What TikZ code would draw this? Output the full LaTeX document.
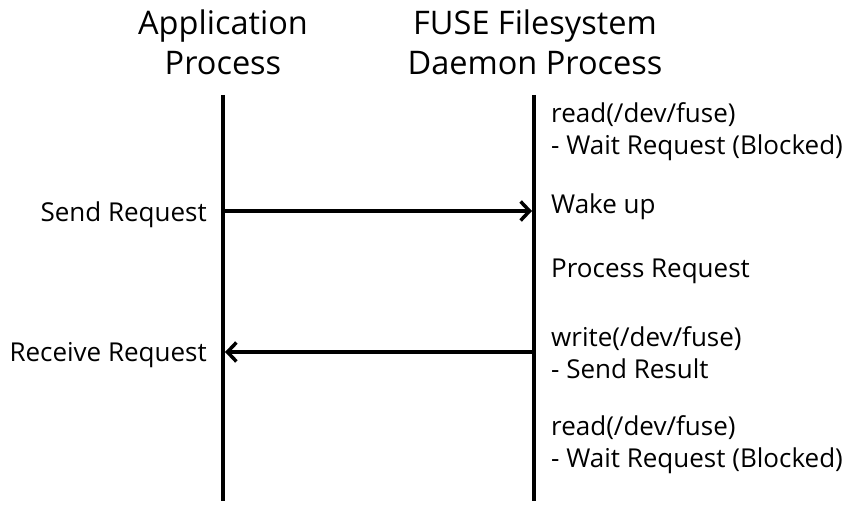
\documentclass[tikz,border=0pt]{standalone}
\usepackage{fontspec}
\setmainfont{Open Sans}
\usetikzlibrary{arrows.meta}
\begin{document}
\begin{tikzpicture}[x=1pt,y=-1pt,inner sep=0pt,
  title/.style={font=\fontsize{32.5}{40}\selectfont,align=center,anchor=base},
  txt/.style={font=\fontsize{26}{32}\selectfont,align=left,anchor=base west},
  lbl/.style={font=\fontsize{26}{32}\selectfont,anchor=base east},
  life/.style={line width=4pt},
  msg/.style={line width=3.5pt,-{Straight Barb[length=9pt,width=19pt]}}]
\useasboundingbox (0,0) rectangle (861,513);
%heads (base = last line)
\node[title] at (223,75) (app) {Application\\Process};
\node[title] at (535,75) (fuse) {FUSE Filesystem\\Daemon Process};
%lifelines
\coordinate (a0) at (223,95); \coordinate (a1) at (223,501);
\coordinate (f0) at (534,95); \coordinate (f1) at (534,501);
\draw[life] (a0) -- (a1);
\draw[life] (f0) -- (f1);
%messages
\coordinate (s0) at (223,211); \coordinate (s1) at (532,211);
\coordinate (r0) at (534,352); \coordinate (r1) at (225,352);
\draw[msg] (s0) -- (s1);
\draw[msg] (r0) -- (r1);
\node[lbl] at (207,221) (send) {Send Request};
\node[lbl] at (207,361) (recv) {Receive Request};
%daemon side
\node[txt] at (551,155) (rd1) {read(/dev/fuse)\\- Wait Request (Blocked)};
\node[txt] at (551,213) (wake) {Wake up};
\node[txt] at (551,277) (proc) {Process Request};
\node[txt] at (551,378) (wr) {write(/dev/fuse)\\- Send Result};
\node[txt] at (551,467) (rd2) {read(/dev/fuse)\\- Wait Request (Blocked)};
\end{tikzpicture}
\end{document}
